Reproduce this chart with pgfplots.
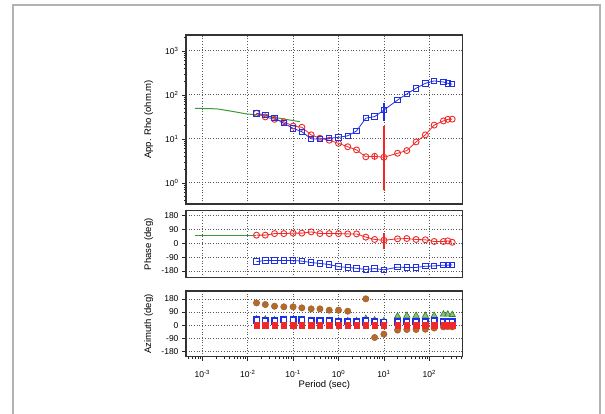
\documentclass[border=0pt]{standalone}
\usepackage{fontspec}
\setmainfont{Liberation Sans}
\usepackage{pgfplots}
\usepackage{pgfplotstable}
\pgfplotsset{compat=1.18}

\definecolor{rhoblue}{HTML}{1F2FE6}
\definecolor{rhored}{HTML}{F02828}
\definecolor{modgreen}{HTML}{3A9A3A}
\definecolor{azbrown}{HTML}{B5692B}
\definecolor{azgreen}{HTML}{86C277}

% period, rho xy (red), rho yx (blue), phase xy, phase yx, azimuth: red, blue, green, brown
\pgfplotstableread{
T        rxy   ryx   pxy  pyx   azr azb azg azo
0.015625 38    38    52   -119  0   35  42  153
0.0244   31.5  35    52   -112  0   30  40  142
0.039    27.7  29.5  62   -112  0   28  35  130
0.0625   24.5  22.6  62   -112  0   38  35  126
0.1      19.5  17.3  65   -112  0   38  35  126
0.156    18.3  14.5  65   -116  0   35  32  119
0.25     12.3  10.0  73   -125  0   30  30  112
0.39     10.3  9.8   62   -131  0   30  30  112
0.625    9.3   10.3  62   -138  0   28  30  103
1.0      7.9   10.8  62   -151  0   25  30  103
1.6      6.6   11.7  60   -157  0   25  30  96
2.5      5.6   15.1  60   -162  0   25  30  18
4.0      3.9   29.5  39   -170  0   28  45  181
6.25     4.0   32    24   -164  0   25  35  -85
10       3.8   45    19   -172  0   20  30  -62
20       4.7   76    28   -155  0   25  62  -34
32       5.4   105   30   -157  0   25  66  -30
51.2     8.5   141   24   -157  0   25  66  -30
81.92    12.3  183   22   -149  0   25  66  -28
128      20.5  207   11   -147  0   28  66  -20
204.8    25.5  195   11   -142  0   25  75  -12
256      27.7  183   15   -142  0   25  75  -10
320      28    174   6    -140  0   22  72  -12
}\mtdata

\pgfplotsset{
  mtpanel/.style={
    scale only axis, width=276.7pt,
    xmin=4.37e-4, xmax=545,
    xtick={1e-3,1e-2,1e-1,1,10,100},
    axis line style={black!80, line width=1.3pt},
    tick align=outside, xtick pos=bottom, ytick pos=left,
    grid=major,
    major grid style={dash pattern=on 0.8pt off 1.9pt, black!65, line width=0.7pt},
    tick style={black!85, line width=0.6pt},
    major tick length=4pt, minor tick length=2.5pt,
    ticklabel style={font=\fontsize{8.5}{9}\selectfont},
    every axis y label/.style={at={(axis description cs:-0.135,0.5)}, rotate=90, anchor=center, font=\fontsize{9.5}{10}\selectfont},
    every axis x label/.style={at={(axis description cs:0.5,0)}, yshift=-28pt, anchor=center, font=\fontsize{9.5}{10}\selectfont},
  },
  nox/.style={xticklabels={}, major x tick style={draw=none}, minor x tick style={draw=none}, minor xtick={}},
  phasey/.style={ytick={-180,-90,0,90,180}, yticklabels={-180,-90,0,90,180}},
}

\begin{document}
\begin{tikzpicture}[x=1pt,y=1pt]
\useasboundingbox (0,0) rectangle (605,414);
\draw[line width=2.2pt, color=gray!60] (13,-20) -- (13,409) -- (600,409) -- (600,-20);

% apparent resistivity
\begin{loglogaxis}[mtpanel, nox,
  at={(186pt,210pt)}, anchor=south west, height=169pt,
  ymin=0.33, ymax=2290,
  ytick={1,10,100,1000},
  yticklabels={10\textsuperscript{0},10\textsuperscript{1},10\textsuperscript{2},10\textsuperscript{3}},
  minor ytick={0.4,0.5,0.6,0.7,0.8,0.9,2,3,4,5,6,7,8,9,20,30,40,50,60,70,80,90,200,300,400,500,600,700,800,900,2000},
  ylabel={App. Rho (ohm.m)},
]
\addplot[modgreen, line width=1pt] coordinates {
 (0.00069,49.4) (0.0021,48) (0.0048,41.7) (0.0095,36.7) (0.0186,34.8) (0.0437,30) (0.085,26.7) (0.141,24.5)};
\addplot[rhored, line width=1.5pt] coordinates {(10,0.67) (10,19.5)};
\addplot[rhored, line width=1.2pt] coordinates {(6.25,3.3) (6.25,4.8)};
\addplot[rhoblue, line width=1.4pt] coordinates {(10,26) (10,66)};
\addplot[rhored, line width=0.8pt, mark=o, mark size=3pt, mark options={line width=0.9pt}] table[x=T,y=rxy]{\mtdata};
\addplot[rhoblue, line width=0.8pt, mark=square, mark size=2.7pt, mark options={line width=0.9pt}] table[x=T,y=ryx]{\mtdata};
\end{loglogaxis}

% phase
\begin{semilogxaxis}[mtpanel, nox, phasey,
  at={(186pt,136.3pt)}, anchor=south west, height=67pt,
  ymin=-223, ymax=210,
  ylabel={Phase (deg)},
]
\addplot[modgreen, line width=1.1pt] coordinates {(0.00069,48) (0.0156,48)};
\addplot[rhored, line width=1.5pt] coordinates {(10,-37) (10,67)};
\addplot[rhored, line width=0.8pt, mark=o, mark size=3pt, mark options={line width=0.9pt}] table[x=T,y=pxy]{\mtdata};
\addplot[rhoblue, line width=0.8pt, mark=square, mark size=2.7pt, mark options={line width=0.9pt}] table[x=T,y=pyx]{\mtdata};
\end{semilogxaxis}

% azimuth
\begin{semilogxaxis}[mtpanel, phasey,
  at={(186pt,57.3pt)}, anchor=south west, height=65.7pt,
  ymin=-217, ymax=235,
  xticklabels={10\textsuperscript{-3},10\textsuperscript{-2},10\textsuperscript{-1},10\textsuperscript{0},10\textsuperscript{1},10\textsuperscript{2}},
  xticklabel style={yshift=-6pt},
  minor xtick={5e-4,6e-4,7e-4,8e-4,9e-4,2e-3,3e-3,4e-3,5e-3,6e-3,7e-3,8e-3,9e-3,0.02,0.03,0.04,0.05,0.06,0.07,0.08,0.09,0.2,0.3,0.4,0.5,0.6,0.7,0.8,0.9,2,3,4,5,6,7,8,9,20,30,40,50,60,70,80,90,200,300,400,500},
  xlabel={Period (sec)},
  ylabel={Azimuth (deg)},
]
\addplot[only marks, mark=*, mark size=3.2pt, mark options={draw=azbrown!85!black, fill=azbrown}] table[x=T,y=azo]{\mtdata};
\addplot[only marks, mark=triangle*, mark size=3.6pt, mark options={draw=modgreen!80!black, fill=azgreen, line width=0.6pt}] table[x=T,y=azg]{\mtdata};
\addplot[only marks, mark=square*, mark size=2.8pt, mark options={draw=rhoblue, fill=white, line width=1.6pt}] table[x=T,y=azb]{\mtdata};
\addplot[only marks, mark=square*, mark size=2.7pt, mark options={draw=rhored, fill=rhored}] table[x=T,y=azr]{\mtdata};
\end{semilogxaxis}
\end{tikzpicture}
\end{document}
